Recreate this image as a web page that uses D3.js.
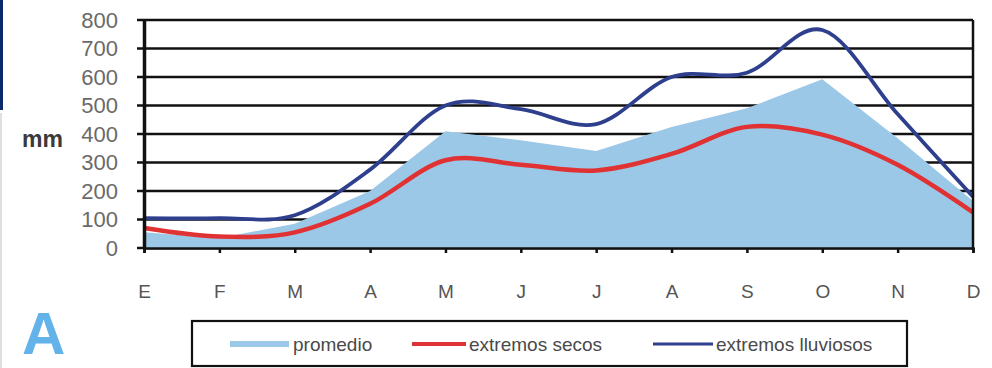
<!DOCTYPE html>
<html>
<head>
<meta charset="utf-8">
<script src="https://cdn.jsdelivr.net/npm/d3@7"></script>
<style>
  html, body { margin: 0; padding: 0; background: #fff; }
  svg { display: block; }
  text { font-family: "Liberation Sans", Arial, sans-serif; }
</style>
</head>
<body>
<svg id="chart" width="992" height="368"></svg>
<script>
// ---- data ----
const months = ["E", "F", "M", "A", "M", "J", "J", "A", "S", "O", "N", "D"];
const promedio = [55, 35, 85, 200, 410, 378, 340, 425, 490, 592, 385, 165];
const secos = [70, 40, 55, 155, 308, 292, 272, 330, 425, 398, 292, 125];
const lluviosos = [105, 105, 115, 275, 500, 487, 435, 600, 615, 765, 470, 180];
const yTicks = [0, 100, 200, 300, 400, 500, 600, 700, 800];
const legendLabels = ["promedio", "extremos secos", "extremos lluviosos"];

const colArea = "#9cc8e8";
const colRed = "#e03232";
const colBlue = "#2e3f8e";

const svg = d3.select("#chart");

// decorative frame pieces
svg.append("rect").attr("x", 0).attr("y", 0).attr("width", 3).attr("height", 110).attr("fill", "#0c2a6b");
svg.append("line").attr("x1", 1).attr("x2", 1).attr("y1", 113).attr("y2", 368)
  .attr("stroke", "#d4d4d4").attr("stroke-width", 1.5);

const x = d3.scalePoint().domain(d3.range(months.length)).range([144, 973]);
const y = d3.scaleLinear().domain([0, 800]).range([248, 20]);

// gridlines
svg.append("g").selectAll("line").data(yTicks).join("line")
  .attr("x1", 137).attr("x2", 973)
  .attr("y1", d => y(d)).attr("y2", d => y(d))
  .attr("stroke", "#111").attr("stroke-width", 2.4);

// area
const area = d3.area()
  .x((d, i) => x(i)).y0(y(0)).y1(d => y(d));
svg.append("path").datum(promedio).attr("d", area).attr("fill", colArea);

// lines
const line = d3.line().x((d, i) => x(i)).y(d => y(d)).curve(d3.curveCatmullRom.alpha(0));
svg.append("path").datum(secos).attr("d", line)
  .attr("fill", "none").attr("stroke", colRed).attr("stroke-width", 4.5).attr("stroke-linejoin", "round");
svg.append("path").datum(lluviosos).attr("d", line)
  .attr("fill", "none").attr("stroke", colBlue).attr("stroke-width", 3.8).attr("stroke-linejoin", "round");

// y axis
const yAxis = svg.append("g").attr("transform", "translate(144,0)")
  .call(d3.axisLeft(y).tickValues(yTicks).tickSize(0).tickPadding(26));
yAxis.select(".domain").attr("stroke", "#111").attr("stroke-width", 3.5);
yAxis.selectAll("text").attr("font-size", 22).attr("fill", "#6a6a6a")
  .attr("font-family", "Liberation Sans, Arial, sans-serif").attr("dy", "0.34em");

// right border
svg.append("line").attr("x1", 973).attr("x2", 973).attr("y1", y(800)).attr("y2", y(0))
  .attr("stroke", "#111").attr("stroke-width", 2.5);

// x axis
const xAxis = svg.append("g").attr("transform", `translate(0,${y(0)})`)
  .call(d3.axisBottom(x).tickFormat(i => months[i]).tickSize(5).tickPadding(32));
xAxis.select(".domain").attr("stroke", "#111").attr("stroke-width", 2.5);
xAxis.selectAll(".tick line").attr("stroke", "#111").attr("stroke-width", 2.5);
xAxis.selectAll("text").attr("font-size", 19).attr("fill", "#555")
  .attr("font-family", "Liberation Sans, Arial, sans-serif");

// mm label
svg.append("text").attr("x", 22).attr("y", 147).text("mm")
  .attr("font-size", 23).attr("font-weight", "bold").attr("fill", "#3a3a3a");

// big A
svg.append("text").attr("x", 22).attr("y", 354).text("A")
  .attr("font-size", 60).attr("font-weight", "bold").attr("fill", "#63b2ea");

// legend
const lg = svg.append("g");
lg.append("rect").attr("x", 192).attr("y", 321).attr("width", 715).attr("height", 45)
  .attr("fill", "#fff").attr("stroke", "#111").attr("stroke-width", 2.2);
const items = [
  { label: legendLabels[0], color: colArea, w: 6, x1: 230, x2: 289, tx: 293 },
  { label: legendLabels[1], color: colRed, w: 4, x1: 412, x2: 466, tx: 469 },
  { label: legendLabels[2], color: colBlue, w: 3, x1: 653, x2: 713, tx: 716 }
];
items.forEach(it => {
  lg.append("line").attr("x1", it.x1).attr("x2", it.x2).attr("y1", 344).attr("y2", 344)
    .attr("stroke", it.color).attr("stroke-width", it.w);
  lg.append("text").attr("x", it.tx).attr("y", 351).text(it.label)
    .attr("font-size", 19).attr("fill", "#4a4a4a");
});
</script>
</body>
</html>
